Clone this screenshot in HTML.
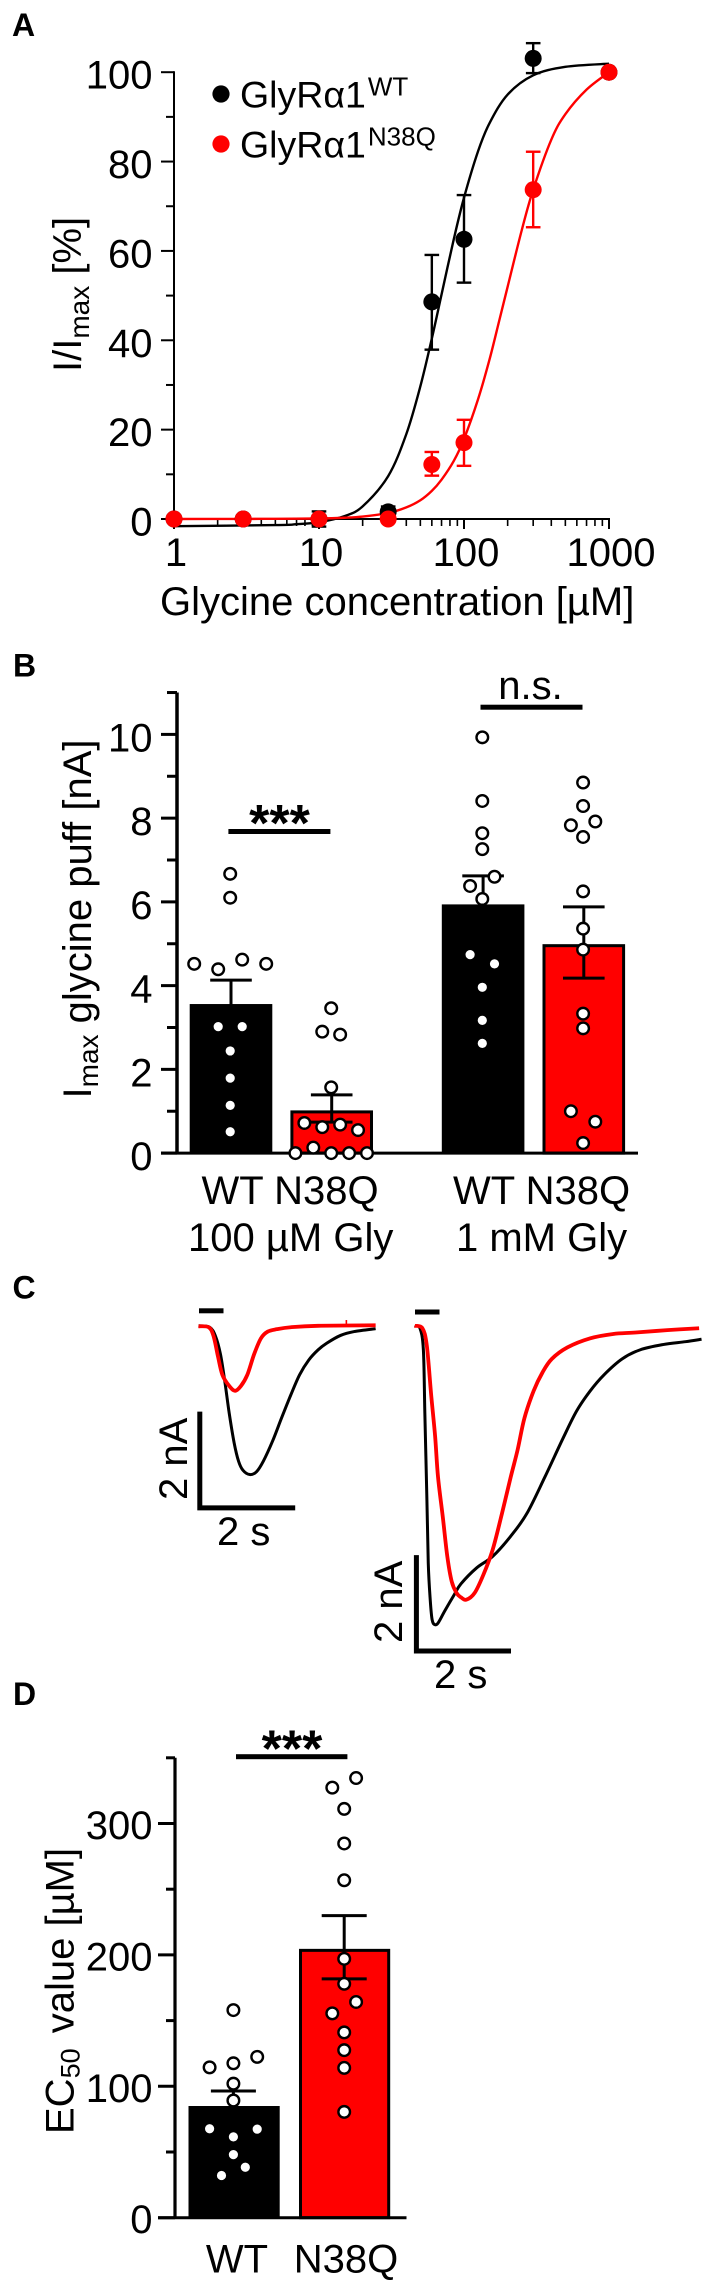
<!DOCTYPE html>
<html lang="en">
<head>
<meta charset="utf-8">
<title>GlyRα1 WT vs N38Q glycine responses</title>
<style>
html,body{margin:0;padding:0;background:#fff;}
svg{display:block;position:absolute;left:0;top:0;}
text{font-family:"Liberation Sans","DejaVu Sans",sans-serif;fill:#000;}
.lab{font-size:40px;}
.panel{font-size:32px;font-weight:bold;}
.stars{font-size:52px;font-weight:bold;text-anchor:middle;}
</style>
</head>
<body>
<svg id="fig" xmlns="http://www.w3.org/2000/svg" width="712" height="2283" viewBox="0 0 712 2283">
  <rect x="0" y="0" width="712" height="2283" fill="#fff"/>

  <g id="panelA">
    <text class="panel" x="12" y="36">A</text>
    <text class="lab" transform="translate(81,372) rotate(-90)">I/I<tspan font-size="28" dy="8">max</tspan><tspan dy="-8"> [%]</tspan></text>
    <text class="lab" x="160" y="615">Glycine concentration [µM]</text>
    <circle cx="221" cy="94" r="8.6" fill="#000"/>
    <text x="240" y="107.6" font-size="37.5">GlyRα1<tspan font-size="26" dy="-12" dx="2">WT</tspan></text>
    <circle cx="221" cy="144" r="8.6" fill="#f00"/>
    <text x="240" y="157.6" font-size="37.5">GlyRα1<tspan font-size="26" dy="-12" dx="2">N38Q</tspan></text>
  </g>

  <g id="panelB">
    <text class="panel" x="13" y="676.5">B</text>
    <text class="lab" transform="translate(91,1098.5) rotate(-90)">I<tspan font-size="28" dy="7">max</tspan><tspan dy="-7"> glycine puff [nA]</tspan></text>
    <text class="stars" x="279.5" y="841">***</text>
    <text class="lab" x="530.5" y="699" text-anchor="middle">n.s.</text>
    <rect x="228.4" y="829" width="102" height="5" fill="#000"/>
    <rect x="480.5" y="704.7" width="102" height="5" fill="#000"/>
    <text class="lab" x="201.5" y="1204">WT N38Q</text>
    <text class="lab" x="188" y="1251">100 µM Gly</text>
    <text class="lab" x="453" y="1204">WT N38Q</text>
    <text class="lab" x="456" y="1251">1 mM Gly</text>
  </g>

  <g id="panelC">
    <text class="panel" x="12.5" y="1298.5">C</text>
    <rect x="199" y="1308.3" width="24.5" height="5" fill="#000"/>
    <rect x="415" y="1309.5" width="24.5" height="5" fill="#000"/>
    <path d="M199.8 1411.6V1507.9H295.2" fill="none" stroke="#000" stroke-width="5"/>
    <path d="M416.4 1555.1V1651H511" fill="none" stroke="#000" stroke-width="5"/>
    <text class="lab" transform="translate(187,1500) rotate(-90)">2 nA</text>
    <text class="lab" x="217" y="1545">2 s</text>
    <text class="lab" transform="translate(402,1643) rotate(-90)">2 nA</text>
    <text class="lab" x="434" y="1688">2 s</text>
  </g>

  <g id="panelD">
    <text class="panel" x="13" y="1705">D</text>
    <text class="lab" transform="translate(73.6,2134) rotate(-90)">EC<tspan font-size="27" dy="6">50</tspan><tspan dy="-6" dx="4"> value [µM]</tspan></text>
    <text class="stars" x="292" y="1766.5">***</text>
    <rect x="236" y="1754.2" width="111.4" height="5" fill="#000"/>
    <text class="lab" x="237" y="2272.5" text-anchor="middle">WT</text>
    <text class="lab" x="346" y="2272.5" text-anchor="middle">N38Q</text>
  </g>
</svg>

<script>
/* ---------- Panel A data: dose-response ---------- */
const concA = [1, 3, 10, 30, 60, 100, 300, 1000];
const wtMeanA = [0, 0, 0, 1.6, 48.6, 62.6, 103.1, 100];
const wtUpperA = [0, 0, 1.7, 2.8, 59.1, 72.5, 106.5, 100];
const wtLowerA = [0, 0, -1.7, 0.4, 37.9, 52.9, 99.8, 100];
const n38qMeanA = [0, 0, 0, 0, 12.2, 17.1, 73.7, 100];
const n38qUpperA = [0, 0, 0, 0, 15, 22.2, 82.2, 100];
const n38qLowerA = [0, 0, 0, 0, 9.7, 11.9, 65.3, 100];
const wtFitConc = [1, 5, 7, 10, 15, 20, 30, 40, 50, 60, 70, 85, 100, 125, 150, 200, 300, 500, 1000];
const wtFitValue = [-1.6, -1.36, -1.17, -0.71, 0.65, 2.83, 9.6, 19, 29.7, 40.4, 50.25, 62.6, 71.9, 82.3, 88.6, 95, 99.3, 101.2, 101.9];
const n38qFitConc = [1, 3, 5, 10, 15, 20, 30, 40, 50, 60, 70, 85, 100, 125, 150, 175, 200, 250, 300, 400, 500, 700, 1000];
const n38qFitValue = [0, 0.02, 0.05, 0.11, 0.28, 0.54, 1.35, 2.6, 4.2, 6.3, 8.8, 13, 17.9, 26.8, 35.7, 44.4, 52, 64.6, 73.7, 84.9, 90.6, 96.1, 100];
const yTicksA = [0, 20, 40, 60, 80, 100];
const yTickLabelsA = ['0', '20', '40', '60', '80', '100'];
const yMinorA = [10, 30, 50, 70, 90];
const xTicksA = [1, 10, 100, 1000];
const xTickLabelsA = ['1', '10', '100', '1000'];
const xMinorA = [2,3,4,5,6,7,8,9,20,30,40,50,60,70,80,90,200,300,400,500,600,700,800,900];

/* ---------- Panel B data: Imax bars ---------- */
const meanB = [3.56, 1.02, 5.94, 4.99];
const semUpperB = [4.13, 1.39, 6.62, 5.88];
const semLowerB = [2.99, 0.74, 5.26, 4.18];
const barColorB = ['#000', '#f00', '#000', '#f00'];
const yTicksB = [0, 2, 4, 6, 8, 10];
const yTickLabelsB = ['0', '2', '4', '6', '8', '10'];
const yMinorB = [1, 3, 5, 7, 9, 11];
const wt100Values = [6.67, 6.1, 4.52, 4.39, 4.62, 4.52, 3.02, 3.02, 2.44, 1.79, 1.14, 0.51];
const wt100Slots = [0, 0, -3, -1, 1, 3, -1, 1, 0, 0, 0, 0];
const n38q100Values = [3.46, 2.9, 2.83, 1.57, 0.72, 0.62, 0.68, 0.55, 0.13, 0, 0, 0, 0];
const n38q100Slots = [0, -1, 1, 0, -3, -1, 1, 3, -2, -4, 0, 2, 4];
const wt1mValues = [9.93, 8.41, 7.64, 7.26, 6.6, 6.38, 6.07, 4.74, 4.52, 3.96, 3.17, 2.62];
const wt1mSlots = [0, 0, 0, 0, 1, -1, 0, -1, 1, 0, 0, 0];
const n38q1mValues = [8.85, 8.29, 7.83, 7.92, 7.55, 6.25, 5.36, 4.86, 3.33, 2.98, 1.0, 0.75, 0.24];
const n38q1mSlots = [0, 0, -1, 1, 0, 0, 0, 0, 0, 0, -1, 1, 0];

/* ---------- Panel C data: current traces (seconds, nA) ---------- */
const lowBlackT = [0, .23, .35, .45, .54, .63, .73, .82, .91, 1.05, 1.19, 1.33, 1.52, 1.7, 1.89, 2.07, 2.26, 2.45, 2.63, 2.91, 3.19, 3.63];
const lowBlackI = [0, -.03, -.22, -.59, -1.16, -1.82, -2.43, -2.81, -3.0, -3.09, -3.03, -2.81, -2.39, -1.92, -1.44, -1.02, -.71, -.5, -.36, -.2, -.12, -.06];
const lowRedT = [0, .21, .31, .4, .49, .63, .75, .87, 1.0, 1.14, 1.28, 1.42, 1.61, 1.89, 2.45, 3.63];
const lowRedI = [-.01, -.03, -.22, -.64, -1.02, -1.25, -1.35, -1.25, -1.02, -.59, -.26, -.12, -.07, -.03, 0, .01];
const lowRedSpikeT = [3.03];
const lowRedSpikeI = [0.12];
const highBlackT = [0, .11, .18, .21, .25, .28, .32, .36, .42, .49, .62, .81, .95, 1.27, 1.6, 1.97, 2.3, 2.67, 3.04, 3.32, 3.6, 3.88, 4.25, 4.62, 5.09, 5.55, 5.88];
const highBlackI = [0, -.05, -.5, -1.82, -3.52, -4.93, -5.69, -6.11, -6.21, -6.16, -5.92, -5.59, -5.36, -5.03, -4.79, -4.37, -3.9, -3.14, -2.34, -1.77, -1.35, -1.02, -.69, -.5, -.39, -.33, -.28];
const highRedT = [0, .16, .25, .34, .42, .48, .58, .67, .76, .86, .95, 1.06, 1.23, 1.41, 1.6, 1.79, 1.97, 2.11, 2.25, 2.44, 2.62, 2.81, 3.13, 3.6, 4.07, 4.53, 5.18, 5.83];
const highRedI = [0, -.05, -.41, -1.44, -2.29, -3.14, -3.99, -4.79, -5.31, -5.55, -5.64, -5.69, -5.55, -5.17, -4.65, -3.9, -3.14, -2.58, -1.92, -1.35, -.97, -.69, -.45, -.26, -.17, -.14, -.09, -.05];

/* ---------- Panel D data: EC50 bars ---------- */
const meanD = [85, 204.6];
const semUpperD = [96.4, 229.9];
const semLowerD = [73.6, 181.8];
const barColorD = ['#000', '#f00'];
const yTicksD = [0, 100, 200, 300];
const yTickLabelsD = ['0', '100', '200', '300'];
const yMinorD = [50, 150, 250, 350];
const wtEc50Values = [158, 122.4, 117.5, 114.4, 102, 89.2, 67.7, 67.4, 61.5, 48, 38.4, 32.1];
const wtEc50Slots = [0, 2, 0, -2, 0, 0, -2, 2, 0, 0, 1, -1];
const n38qEc50Values = [334.6, 327.3, 311.1, 284.8, 256.8, 197, 178, 164.2, 155.5, 141, 127.5, 114, 80.5];
const n38qEc50Slots = [1, -1, 0, 0, 0, 0, 0, 1, -1, 0, 0, 0, 0];

/* ---------- Helpers ---------- */
const NS = 'http://www.w3.org/2000/svg';
function mk(tag, attrs, parent) {
  const e = document.createElementNS(NS, tag);
  for (const k in attrs) e.setAttribute(k, attrs[k]);
  parent.appendChild(e);
  return e;
}
function seg(parent, x1, y1, x2, y2, color, w) {
  return mk('line', {x1: x1, y1: y1, x2: x2, y2: y2, stroke: color, 'stroke-width': w}, parent);
}
function smooth(pts) {
  let d = 'M' + pts[0][0].toFixed(2) + ' ' + pts[0][1].toFixed(2);
  for (let i = 0; i < pts.length - 1; i++) {
    const p0 = pts[Math.max(i - 1, 0)], p1 = pts[i], p2 = pts[i + 1], p3 = pts[Math.min(i + 2, pts.length - 1)];
    const c1x = p1[0] + (p2[0] - p0[0]) / 6, c1y = p1[1] + (p2[1] - p0[1]) / 6;
    const c2x = p2[0] - (p3[0] - p1[0]) / 6, c2y = p2[1] - (p3[1] - p1[1]) / 6;
    d += 'C' + c1x.toFixed(2) + ' ' + c1y.toFixed(2) + ' ' + c2x.toFixed(2) + ' ' + c2y.toFixed(2) + ' ' + p2[0].toFixed(2) + ' ' + p2[1].toFixed(2);
  }
  return d;
}
function errorBar(parent, x, yHi, yLo, half, color, w) {
  const g = mk('g', {}, parent);
  
  
  seg(g, x, yHi, x, yLo, color, w);
  seg(g, x - half, yHi, x + half, yHi, color, w);
  seg(g, x - half, yLo, x + half, yLo, color, w);
}
function tickLabel(parent, x, y, str, anchor) {
  const t = mk('text', {x: x, y: y, 'text-anchor': anchor, 'class': 'lab'}, parent);
  t.textContent = str;
  return t;
}
function yAxis(parent, yFn, axisX, tickLeft, minorLeft, ticks, labels, minors, w, labelOffset) {
  for (let i = 0; i < ticks.length; i++) {
    const tick = seg(parent, tickLeft, yFn(ticks[i]), axisX, yFn(ticks[i]), '#000', w);
    
    
    const lbl = tickLabel(parent, 152.5, yFn(ticks[i]) + labelOffset, labels[i], 'end');
    
    
  }
  for (const m of minors) {
    const tick = seg(parent, minorLeft, yFn(m), axisX, yFn(m), '#000', w);
    
    
  }
}
function dots(parent, cx, spacing, values, slots, yFn) {
  for (let i = 0; i < values.length; i++) {
    const c = mk('circle', {cx: cx + slots[i] * spacing, cy: yFn(values[i]), r: 5.8, fill: '#fff', stroke: '#000', 'stroke-width': 2.4}, parent);
    
    
  }
}
function bar(parent, cx, halfW, v, color, yFn) {
  const top = yFn(v), bottom = yFn(0);
  const inset = color === '#000' ? 0 : 1.5;
  const r = mk('rect', {x: cx - halfW + inset, y: top + inset, width: 2 * (halfW - inset), height: bottom - top - inset, fill: color, stroke: color === '#000' ? 'none' : '#000', 'stroke-width': color === '#000' ? 0 : 3}, parent);
  
  
}

/* ---------- Panel A ---------- */
const xA = c => 174 + Math.log10(c) * 145;
const yA = v => 519 - v * 4.468;
(function () {
  const p = document.getElementById('panelA');
  const ax = seg(p, 174, yA(100) - 1, 174, yA(0) + 1, '#000', 2);
  
  
  const ax2 = seg(p, 173, yA(0), xA(1000) + 1, yA(0), '#000', 2);
  
  
  yAxis(p, yA, 174, 161, 166, yTicksA, yTickLabelsA, yMinorA, 2, 16.5);
  for (let i = 0; i < xTicksA.length; i++) {
    const t = seg(p, xA(xTicksA[i]), yA(0), xA(xTicksA[i]), yA(0) + 10, '#000', 2);
    
    
    const l = tickLabel(p, xA(xTicksA[i]) + 2, 566, xTickLabelsA[i], 'middle');
    
    
  }
  for (const m of xMinorA) {
    const t = seg(p, xA(m), yA(0), xA(m), yA(0) + 7, '#000', 1.6);
    
    
  }
  const wc = mk('path', {d: smooth(wtFitConc.map((c, i) => [xA(c), yA(wtFitValue[i])])), fill: 'none', stroke: '#000', 'stroke-width': 2.4}, p);
  
  
  const rc = mk('path', {d: smooth(n38qFitConc.map((c, i) => [xA(c), yA(n38qFitValue[i])])), fill: 'none', stroke: '#f00', 'stroke-width': 2.4}, p);
  
  
  for (let i = 0; i < concA.length; i++) {
    if (wtUpperA[i] !== wtLowerA[i]) errorBar(p, xA(concA[i]), yA(wtUpperA[i]), yA(wtLowerA[i]), 7.3, '#000', 2.4);
    const c = mk('circle', {cx: xA(concA[i]), cy: yA(wtMeanA[i]), r: 8.5, fill: '#000'}, p);
    
    
  }
  for (let i = 0; i < concA.length; i++) {
    if (n38qUpperA[i] !== n38qLowerA[i]) errorBar(p, xA(concA[i]), yA(n38qUpperA[i]), yA(n38qLowerA[i]), 7.3, '#f00', 2.4);
    const c = mk('circle', {cx: xA(concA[i]), cy: yA(n38qMeanA[i]), r: 8.5, fill: '#f00'}, p);
    
    
  }
})();

/* ---------- Panel B ---------- */
const yB = v => 1153.1 - v * 41.87;
const xB = i => 231 + i * 100.7 + (i >= 2 ? 50.7 : 0);
(function () {
  const p = document.getElementById('panelB');
  for (let i = 0; i < meanB.length; i++) bar(p, xB(i), 41.3, meanB[i], barColorB[i], yB);
  const ax = seg(p, 177, yB(11), 177, yB(0), '#000', 3.5);
  
  
  const ax2 = seg(p, 161, yB(0), 638, yB(0), '#000', 3);
  
  
  yAxis(p, yB, 177, 161, 167, yTicksB, yTickLabelsB, yMinorB, 3, 17);
  for (let i = 0; i < meanB.length; i++) errorBar(p, xB(i), yB(semUpperB[i]), yB(semLowerB[i]), 20.8, '#000', 3);
  dots(p, xB(0) - 0.8, 12, wt100Values, wt100Slots, yB);
  dots(p, xB(1) - 0.5, 8.95, n38q100Values, n38q100Slots, yB);
  dots(p, xB(2) - 0.8, 12.2, wt1mValues, wt1mSlots, yB);
  dots(p, xB(3) - 0.7, 12.2, n38q1mValues, n38q1mSlots, yB);
})();

/* ---------- Panel C ---------- */
const xC = (t, origin) => origin + t * 48.8;
const yC = i => 1325.8 - i * 48.14;
(function () {
  const p = document.getElementById('panelC');
  const a = mk('path', {d: smooth(lowBlackT.map((t, i) => [xC(t, 198.5), yC(lowBlackI[i])])), fill: 'none', stroke: '#000', 'stroke-width': 3}, p);
  
  
  const b = mk('path', {d: smooth(lowRedT.map((t, i) => [xC(t, 198.5), yC(lowRedI[i])])), fill: 'none', stroke: '#f00', 'stroke-width': 3.8}, p);
  
  
  const s = seg(p, xC(lowRedSpikeT[0], 198.5), yC(0), xC(lowRedSpikeT[0], 198.5), yC(lowRedSpikeI[0]), '#f00', 1.6);
  
  
  const c = mk('path', {d: smooth(highBlackT.map((t, i) => [xC(t, 414.6), yC(highBlackI[i])])), fill: 'none', stroke: '#000', 'stroke-width': 3}, p);
  
  
  const d = mk('path', {d: smooth(highRedT.map((t, i) => [xC(t, 414.6), yC(highRedI[i])])), fill: 'none', stroke: '#f00', 'stroke-width': 3.8}, p);
  
  
})();

/* ---------- Panel D ---------- */
const yD = v => 2217.7 - v * 1.314;
const xD = i => 234.1 + i * 110.5;
(function () {
  const p = document.getElementById('panelD');
  for (let i = 0; i < meanD.length; i++) bar(p, xD(i), 45.6, meanD[i], barColorD[i], yD);
  const ax = seg(p, 175, yD(350), 175, yD(0), '#000', 3.2);
  
  
  const ax2 = seg(p, 158, yD(0), 406.5, yD(0), '#000', 3);
  
  
  yAxis(p, yD, 175, 158, 166, yTicksD, yTickLabelsD, yMinorD, 3, 15.5);
  errorBar(p, xD(0) - 0.7, yD(semUpperD[0]), yD(semLowerD[0]), 22.5, '#000', 3);
  errorBar(p, xD(1) - 0.4, yD(semUpperD[1]), yD(semLowerD[1]), 22.5, '#000', 3);
  dots(p, xD(0) - 0.7, 5.95, wtEc50Values, wtEc50Slots.map(s => s * 2), yD);
  dots(p, xD(1) - 0.4, 11.9, n38qEc50Values, n38qEc50Slots, yD);
})();
</script>
</body>
</html>
